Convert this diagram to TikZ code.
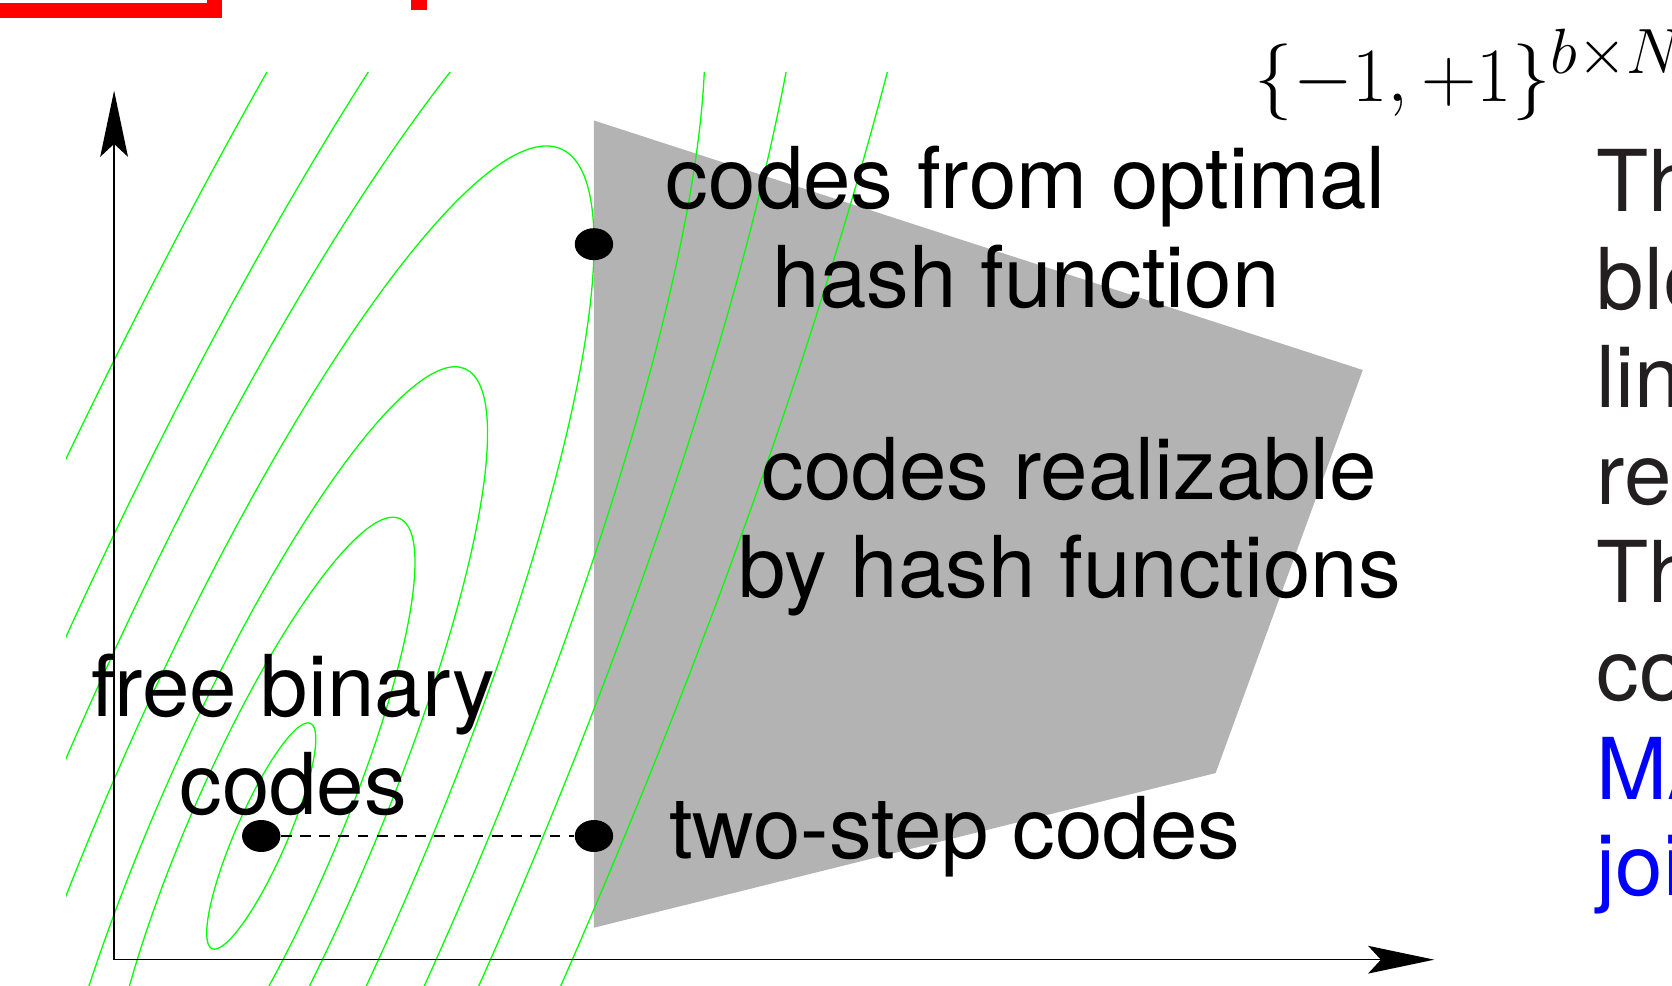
\documentclass[tikz,border=0pt]{standalone}
\usepackage{fontspec}
\newfontfamily\helv{TeX Gyre Heros}
\usetikzlibrary{arrows.meta,shapes.geometric}
\definecolor{contourgreen}{RGB}{0,255,0}
\definecolor{regiongray}{RGB}{179,179,179}
\definecolor{slidetext}{RGB}{35,31,32}
\definecolor{linkblue}{RGB}{0,0,255}

\tikzset{
  axis/.style={line width=0.75pt, -{Stealth[length=31pt, width=13pt, inset=6pt]}},
  contour/.style={contourgreen, line width=0.6pt},
  codedot/.style={ellipse, fill=black, inner sep=0pt, minimum width=18pt, minimum height=15pt},
  lbl/.style={font=\helv\fontsize{40}{46}\selectfont, inner sep=0pt},
}

\begin{document}
\begin{tikzpicture}[x=0.5pt,y=0.5pt,yscale=-1,xscale=1]
\useasboundingbox (0,0) rectangle (1568,924);

%Shape: Rectangle (red frame, only its corner shows)
\draw [red, line width=7pt] (-40,-80) rectangle (201.5,10);
\fill [red] (385,-5) rectangle (400,9);

%Shape: Polygon (realizable codes)
\fill [regiongray] (557,113) -- (1278,347) -- (1140,725) -- (557,870) -- cycle;

%Contour lines of the objective
\begin{scope}
\clip (62,68) rectangle (1100,930);
\foreach \s in {0.164,0.462,0.68,1,1.333,1.648,2.124}
  \draw [contour, rotate around={-66.43:(245,784)}] (245,784) ellipse [x radius={703.1*\s}, y radius={147.7*\s}];
\end{scope}

%Axes
\coordinate (origin) at (107,900);
\coordinate (ytip) at (107,85);
\coordinate (xtip) at (1345,900);
\draw [axis] (origin) -- (ytip);
\draw [axis] (origin) -- (xtip);

%Code points
\node [codedot] (optimal) at (557,229) {};
\node [codedot] (twostep) at (557,784) {};
\node [codedot] (free) at (245,784) {};
\draw [dashed, line width=0.5pt, dash pattern={on 5pt off 4pt}] (free) -- (twostep);

% Text Node
\node [lbl, anchor=base] (opt1) at (962,196) {codes from optimal};
\node [lbl, anchor=base] (opt2) at (962,288) {hash function};
% Text Node
\node [lbl, anchor=base] (real1) at (1003,468) {codes realizable};
\node [lbl, anchor=base] (real2) at (1003,560) {by hash functions};
% Text Node
\node [lbl, anchor=base] (free1) at (275,672) {free binary};
\node [lbl, anchor=base] (free2) at (275,764) {codes};
% Text Node
\node [lbl, anchor=base west] (twolbl) at (627,805) {two-step codes};
% Text Node
\node [anchor=base west, inner sep=0pt, scale=1.447, font=\fontsize{24.88}{30}\selectfont] (space) at (1176,95) {$\{-1,+1\}^{b\times N}$};

%Slide text next to the figure
\node [lbl, slidetext, anchor=base west] (t1) at (1497,198) {Th};
\node [lbl, slidetext, anchor=base west] (t2) at (1497,290) {ble};
\node [lbl, slidetext, anchor=base west] (t3) at (1497,382) {lin};
\node [lbl, slidetext, anchor=base west] (t4) at (1497,473) {re};
\node [lbl, slidetext, anchor=base west] (t5) at (1497,565) {Th};
\node [lbl, slidetext, anchor=base west] (t6) at (1497,657) {co};
\node [lbl, linkblue, anchor=base west] (t7) at (1497,750) {MA};
\node [lbl, linkblue, anchor=base west] (t8) at (1497,840) {joi};

\end{tikzpicture}
\end{document}
